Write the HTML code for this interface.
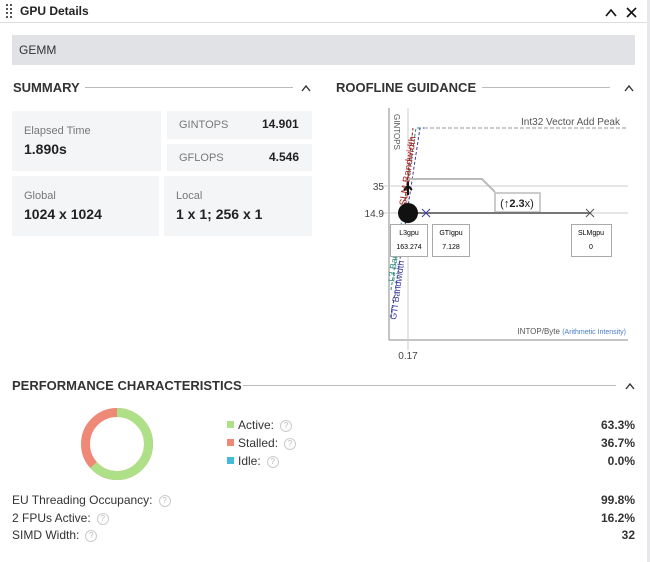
<!DOCTYPE html>
<html><head><style>
body{margin:0;width:650px;height:562px;background:#fff;font-family:"Liberation Sans",sans-serif;color:#222;position:relative;overflow:hidden}
.a{position:absolute}
.card{position:absolute;background:#f4f5f7}
.lbl{color:#777;font-size:11px}
.big{font-weight:bold;font-size:14px;color:#222}
.h{font-weight:bold;font-size:13px;color:#333}
.q{display:inline-block;width:10px;height:10px;border:1px solid #ccc;border-radius:50%;font-size:8px;color:#bbb;text-align:center;line-height:10px;margin-left:6px;vertical-align:1px}
.row{position:absolute;font-size:12px;color:#333}
.val{position:absolute;right:15px;font-size:12px;font-weight:bold;color:#333;text-align:right}
</style></head><body>
<div class="a" style="right:0;top:0;width:3px;height:562px;background:#e8e8ec"></div>
<svg class="a" style="left:6px;top:4px" width="8" height="14"><g fill="#555"><rect x="0" y="0" width="2" height="2"/><rect x="4" y="0" width="2" height="2"/><rect x="0" y="4" width="2" height="2"/><rect x="4" y="4" width="2" height="2"/><rect x="0" y="8" width="2" height="2"/><rect x="4" y="8" width="2" height="2"/><rect x="0" y="12" width="2" height="2"/><rect x="4" y="12" width="2" height="2"/></g></svg>
<div class="a" style="left:20px;top:4px;font-size:12px;font-weight:bold">GPU Details</div>
<div class="a" style="left:0;top:22px;width:647px;height:1px;background:#ddd"></div>
<svg class="a" style="left:605px;top:6px" width="35" height="12"><polyline points="1,10 6,4 11,10" fill="none" stroke="#111" stroke-width="1.6"/><path d="M22,2 L31,11 M31,2 L22,11" stroke="#111" stroke-width="1.6"/></svg>
<div class="a" style="left:12px;top:35px;width:623px;height:30px;background:#e1e2e6"></div>
<div class="a" style="left:19px;top:43px;font-size:12px;color:#333">GEMM</div>

<div class="a h" style="left:13px;top:80px">SUMMARY</div>
<div class="a" style="left:85px;top:87px;width:208px;height:1px;background:#bbb"></div>
<svg class="a" style="left:301px;top:84px" width="12" height="8"><polyline points="1,7 5,2 9,7" fill="none" stroke="#333" stroke-width="1.4"/></svg>

<div class="card" style="left:12px;top:111px;width:149px;height:60px"></div>
<div class="a lbl" style="left:24px;top:125px">Elapsed Time</div>
<div class="a big" style="left:24px;top:141px">1.890s</div>
<div class="card" style="left:167px;top:111px;width:145px;height:28px"></div>
<div class="a lbl" style="left:179px;top:119px">GINTOPS</div>
<div class="a big" style="left:262px;top:117px;font-size:12px">14.901</div>
<div class="card" style="left:167px;top:144px;width:145px;height:27px"></div>
<div class="a lbl" style="left:179px;top:152px">GFLOPS</div>
<div class="a big" style="left:269px;top:150px;font-size:12px">4.546</div>
<div class="card" style="left:12px;top:176px;width:147px;height:60px"></div>
<div class="a lbl" style="left:24px;top:190px">Global</div>
<div class="a big" style="left:24px;top:206px">1024 x 1024</div>
<div class="card" style="left:164px;top:176px;width:148px;height:60px"></div>
<div class="a lbl" style="left:176px;top:190px">Local</div>
<div class="a big" style="left:176px;top:206px">1 x 1; 256 x 1</div>

<div class="a h" style="left:336px;top:80px">ROOFLINE GUIDANCE</div>
<div class="a" style="left:482px;top:87px;width:128px;height:1px;background:#bbb"></div>
<svg class="a" style="left:624px;top:84px" width="12" height="8"><polyline points="1,7 5,2 9,7" fill="none" stroke="#333" stroke-width="1.4"/></svg>

<svg class="a" style="left:330px;top:100px" width="310" height="270" font-family="Liberation Sans,sans-serif">
<line x1="59" y1="8" x2="59" y2="240" stroke="#888"/>
<line x1="59" y1="240" x2="298" y2="240" stroke="#888"/>
<line x1="78" y1="8" x2="78" y2="250" stroke="#ccc"/>
<line x1="51" y1="86" x2="298" y2="86" stroke="#ccc"/>
<line x1="51" y1="113" x2="298" y2="113" stroke="#ccc"/>
<text x="54" y="90" font-size="10" fill="#444" text-anchor="end">35</text>
<text x="54" y="117" font-size="10" fill="#444" text-anchor="end">14.9</text>
<text x="78" y="259" font-size="10" fill="#444" text-anchor="middle">0.17</text>
<text x="290" y="25" font-size="10" fill="#555" text-anchor="end">Int32 Vector Add Peak</text>
<line x1="94" y1="28" x2="298" y2="28" stroke="#999" stroke-dasharray="4,2"/>
<text transform="translate(64,14) rotate(90)" font-size="8" fill="#555">GINTOPS</text>
<path d="M61,190 L86,28 L90,28" stroke="#2a8a7a" fill="none" stroke-dasharray="3,2"/>
<path d="M61,218 L90,28 L94,28" stroke="#3a3a9a" fill="none" stroke-dasharray="3,2"/>
<path d="M73,120 L83,28" stroke="#a02020" fill="none" stroke-dasharray="3,2"/>
<text transform="translate(76,106) rotate(-82)" font-size="10" fill="#a02020">SLM Bandwidth</text>
<text transform="translate(66,220) rotate(-82)" font-size="9" fill="#3a3a9a">GTI Bandwidth</text>
<text transform="translate(64,182) rotate(-82)" font-size="9" fill="#2a8a7a">L3 Ban</text>
<polyline points="78,79 152,79 165,92" fill="none" stroke="#bbb" stroke-width="2"/>
<rect x="165" y="93" width="45" height="19" fill="#fff" stroke="#bbb" stroke-width="1.5"/>
<text x="187" y="107" font-size="11" text-anchor="middle" fill="#222">(↑<tspan font-weight="bold">2.3</tspan>x)</text>
<line x1="78" y1="113" x2="260" y2="113" stroke="#777" stroke-width="2"/>
<path d="M78,95 L78,82 M74,90 L78,86 L82,90" stroke="#111" stroke-width="2" fill="none"/>
<circle cx="78" cy="113" r="10" fill="#111"/>
<path d="M92,109 L100,117 M100,109 L92,117" stroke="#3a3a9a"/>
<path d="M256,109 L264,117 M264,109 L256,117" stroke="#555"/>
<rect x="60.5" y="124.5" width="37" height="32" fill="#fff" stroke="#aaa"/>
<text x="79" y="135" font-size="7" text-anchor="middle">L3gpu</text><text x="79" y="149" font-size="7" text-anchor="middle">163.274</text>
<rect x="102.5" y="124.5" width="37" height="32" fill="#fff" stroke="#aaa"/>
<text x="121" y="135" font-size="7" text-anchor="middle">GTIgpu</text><text x="121" y="149" font-size="7" text-anchor="middle">7.128</text>
<rect x="241.5" y="124.5" width="40" height="32" fill="#fff" stroke="#aaa"/>
<text x="261" y="135" font-size="7" text-anchor="middle">SLMgpu</text><text x="261" y="149" font-size="7" text-anchor="middle">0</text>
<text x="296" y="234" font-size="8" fill="#555" text-anchor="end">INTOP/Byte <tspan fill="#4a7ac0" font-size="7">(Arithmetic Intensity)</tspan></text>
</svg>

<div class="a h" style="left:12px;top:378px">PERFORMANCE CHARACTERISTICS</div>
<div class="a" style="left:243px;top:385px;width:373px;height:1px;background:#bbb"></div>
<svg class="a" style="left:625px;top:382px" width="12" height="8"><polyline points="1,7 5,2 9,7" fill="none" stroke="#333" stroke-width="1.4"/></svg>

<svg class="a" style="left:78px;top:405px" width="78" height="78">
<circle cx="39" cy="39" r="31.5" fill="none" stroke="#ee8877" stroke-width="9"/>
<circle cx="39" cy="39" r="31.5" fill="none" stroke="#aee088" stroke-width="9" stroke-dasharray="125.3 200" transform="rotate(-90 39 39)"/>
</svg>
<div class="a" style="left:227px;top:421px;width:7px;height:7px;background:#aee088"></div>
<div class="row" style="left:238px;top:418px">Active:<span class="q">?</span></div>
<div class="val" style="top:418px">63.3%</div>
<div class="a" style="left:227px;top:439px;width:7px;height:7px;background:#ee8877"></div>
<div class="row" style="left:238px;top:436px">Stalled:<span class="q">?</span></div>
<div class="val" style="top:436px">36.7%</div>
<div class="a" style="left:227px;top:457px;width:7px;height:7px;background:#44bbdd"></div>
<div class="row" style="left:238px;top:454px">Idle:<span class="q">?</span></div>
<div class="val" style="top:454px">0.0%</div>

<div class="row" style="left:12px;top:493px">EU Threading Occupancy:<span class="q">?</span></div>
<div class="val" style="top:493px">99.8%</div>
<div class="row" style="left:12px;top:511px">2 FPUs Active:<span class="q">?</span></div>
<div class="val" style="top:511px">16.2%</div>
<div class="row" style="left:12px;top:528px">SIMD Width:<span class="q">?</span></div>
<div class="val" style="top:528px">32</div>
</body></html>
